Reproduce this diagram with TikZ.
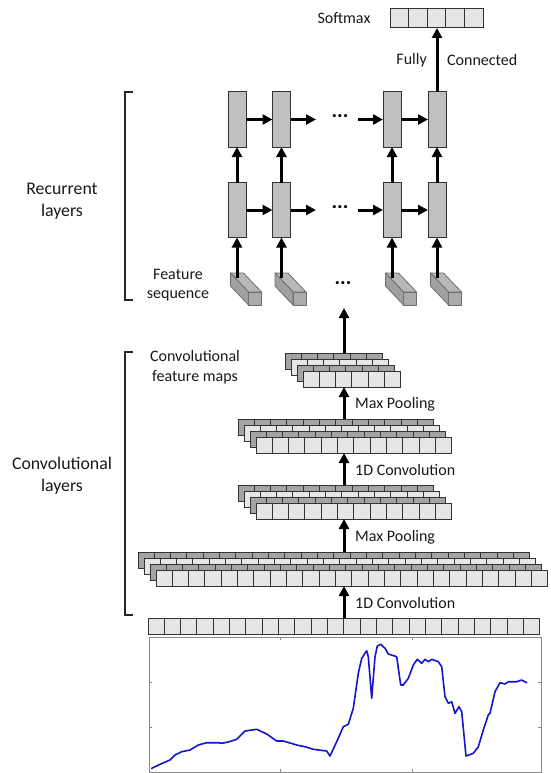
\documentclass[tikz,border=0pt]{standalone}
\usepackage{fontspec}
\setmainfont{Carlito}
\usetikzlibrary{arrows.meta,calc}
\definecolor{cdark}{HTML}{A4A4A4}
\definecolor{clight}{HTML}{E6E6E6}
\definecolor{crnn}{HTML}{C0C0C0}
\definecolor{cedge}{HTML}{333333}
\definecolor{cubetop}{HTML}{B8B8B8}
\definecolor{cubeside}{HTML}{A0A0A0}
\definecolor{cubefront}{HTML}{ABABAB}
\definecolor{cubeedge}{HTML}{6E6E6E}
\definecolor{plotblue}{HTML}{1414CC}
\definecolor{frame}{HTML}{8A8A8A}
\newcommand{\layerrow}[5]{%
  \node[cellbox, fill=#5, minimum width=#4*16.33pt, anchor=north west] (#1) at (#2,#3) {};
  \foreach \i in {2,...,#4} \draw[cellline] ([xshift={(\i-1)*16.33pt}]#1.north west) -- ([xshift={(\i-1)*16.33pt}]#1.south west);
}
\newcommand{\stackblock}[4]{%
  \layerrow{#1a}{#2}{#3}{#4}{cdark}
  \layerrow{#1b}{#2+6}{#3+6}{#4}{clight}
  \layerrow{#1c}{#2+12}{#3+12}{#4}{cdark}
  \layerrow{#1}{#2+18}{#3+18}{#4}{clight}
}
\newcommand{\cuboid}[2]{% name, back-left x
  \filldraw[cubeface, fill=cubetop] (#2,273) -- (#2+13,273) -- (#2+31,292) -- (#2+18,292) -- cycle;
  \filldraw[cubeface, fill=cubeside] (#2,273) -- (#2+18,292) -- (#2+18,305) -- (#2,286) -- cycle;
  \filldraw[cubeface, fill=cubefront] (#2+18,292) rectangle (#2+31,305);
  \coordinate (#1) at (#2+6.5,278);
}
\begin{document}
\begin{tikzpicture}[x=1pt,y=-1pt,
  lbl/.style={font=\fontsize{16}{19.5}\selectfont, inner sep=0pt, align=center, text=black!90},
  biglbl/.style={font=\fontsize{17.8}{22}\selectfont, inner sep=0pt, align=center, text=black!90},
  cellbox/.style={draw=cedge, line width=1pt, minimum height=16pt, inner sep=0pt, outer sep=0pt},
  cellline/.style={draw=cedge, line width=1pt},
  rnn/.style={draw=cedge, fill=crnn, line width=1pt, minimum width=18pt, minimum height=55pt, inner sep=0pt, outer sep=0pt},
  cubeface/.style={draw=cubeedge, line width=0.8pt, line join=round},
  arr/.style={line width=3pt, -{Triangle[length=10pt,width=10pt]}},
  brack/.style={line width=1.2pt, black!85},
  dots/.style={font=\fontsize{21}{24}\selectfont\bfseries, inner sep=0pt}]
\useasboundingbox (0,0) rectangle (550,773);

% ---------- Softmax ----------
\node[cellbox, fill=clight, minimum width=93pt, minimum height=19pt, anchor=north west] (soft) at (390,9) {};
\foreach \i in {1,...,4} \draw[cellline] ([xshift={\i*18.6pt}]soft.north west) -- ([xshift={\i*18.6pt}]soft.south west);
\node[lbl] (softlbl) at (344,18) {Softmax};

% ---------- Recurrent layers ----------
\node[rnn] (u1) at (237,119.5) {};
\node[rnn] (u2) at (281.5,119.5) {};
\node[rnn] (u3) at (392,119.5) {};
\node[rnn] (u4) at (437,119.5) {};
\node[rnn] (l1) at (237,210) {};
\node[rnn] (l2) at (281.5,210) {};
\node[rnn] (l3) at (392,210) {};
\node[rnn] (l4) at (437,210) {};
\coordinate (ue) at (316,119.5);
\coordinate (us) at (358,119.5);
\coordinate (le) at (316,210);
\coordinate (ls) at (358,210);
\node[dots] (udots) at (340,116) {...};
\node[dots] (ldots) at (340,207) {...};
\node[dots] (fdots) at (343,283) {...};

\draw[arr] (u1) -- (u2);
\draw[arr] (u2) -- (ue);
\draw[arr] (us) -- (u3);
\draw[arr] (u3) -- (u4);
\draw[arr] (l1) -- (l2);
\draw[arr] (l2) -- (le);
\draw[arr] (ls) -- (l3);
\draw[arr] (l3) -- (l4);
\foreach \c in {1,2,3,4} \draw[arr] (l\c) -- (u\c);

% fully connected
\draw[arr] (u4) -- (soft.south -| u4);
\node[lbl, anchor=east] (fully) at (427,60) {Fully};
\node[lbl, anchor=west] (conn) at (447,60) {Connected};

% feature sequence cuboids
\cuboid{c1}{230.5}
\cuboid{c2}{275}
\cuboid{c3}{385.5}
\cuboid{c4}{430.5}
\foreach \c in {1,2,3,4} \draw[arr] (c\c) -- (l\c);
\node[lbl] (fseq) at (178,285) {Feature\\sequence};

% ---------- Convolutional stacks ----------
\coordinate (ax) at (344,0);
\stackblock{A}{285}{353}{6}
\stackblock{B}{238}{419}{12}
\stackblock{C}{238}{485}{12}
\stackblock{D}{138}{552}{24}
\layerrow{inp}{148}{618}{24}{clight}

\coordinate (fsq) at (344,308);
\draw[arr] (inp.north -| ax) -- (D.south -| ax);
\draw[arr] (Da.north -| ax) -- (C.south -| ax);
\draw[arr] (Ca.north -| ax) -- (B.south -| ax);
\draw[arr] (Ba.north -| ax) -- (A.south -| ax);
\draw[arr] (Aa.north -| ax) -- (fsq);

\node[lbl, anchor=west] (t1) at (355,603) {1D Convolution};
\node[lbl, anchor=west] (t2) at (355,537) {Max Pooling};
\node[lbl, anchor=west] (t3) at (355,470) {1D Convolution};
\node[lbl, anchor=west] (t4) at (355,404) {Max Pooling};
\node[lbl] (cfm) at (195,367) {Convolutional\\feature maps};

% ---------- brackets ----------
\draw[brack] (133,92) -- (125,92) -- (125,300) -- (133,300);
\draw[brack] (133,352) -- (125,352) -- (125,615) -- (133,615);
\node[biglbl] (rec) at (62,201) {Recurrent\\layers};
\node[biglbl] (conv) at (62,476) {Convolutional\\layers};

% ---------- signal plot ----------
\draw[frame, line width=0.8pt] (149,637) rectangle (541,772);
\foreach \x in {280,412} {\draw[frame, line width=0.8pt] (\x,637) -- (\x,640); \draw[frame, line width=0.8pt] (\x,772) -- (\x,769);}
\foreach \y in {682,727} {\draw[frame, line width=0.8pt] (149,\y) -- (152,\y); \draw[frame, line width=0.8pt] (541,\y) -- (538,\y);}
\draw[plotblue, line width=1.6pt, line join=round, line cap=round]
 (151.7,768.3) -- (160,764.3) -- (170,760) -- (175,755) -- (181.7,751.7) -- (190,750)
 -- (198.3,745) -- (206.7,742.7) -- (218.3,742.7) -- (221.7,743.3) -- (228.3,742) -- (236.7,739.3)
 -- (245,731) -- (256.7,729.3) -- (266.7,734) -- (276.7,741) -- (283.3,741) -- (296.7,745)
 -- (305,746.7) -- (313.3,749.3) -- (326.7,751) -- (330,756) -- (336.7,741.7) -- (343.3,726.7)
 -- (348.3,724.3) -- (353.3,708.3) -- (358.3,673.3) -- (361.7,658.3) -- (366.7,650.7) -- (368.3,656.7)
 -- (371.7,698.3) -- (375,656.7) -- (377.3,646) -- (380.7,644.3) -- (385,648.3) -- (388.3,654)
 -- (396.7,656.7) -- (400.7,685) -- (403.3,685) -- (408.3,678.3) -- (413.3,665) -- (417.3,659.3)
 -- (421.7,663.3) -- (425,659.3) -- (428.3,661.7) -- (431.7,659.3) -- (438.3,661.7) -- (441.7,666.7)
 -- (445,696.7) -- (448.3,703.3) -- (451.7,701.7) -- (455,713.3) -- (459,706.7) -- (461.7,711.7)
 -- (466,756) -- (473.3,753.3) -- (478.3,746.7) -- (483.3,730) -- (488.3,715) -- (490,713.3)
 -- (495,691.7) -- (500,682.7) -- (505,684) -- (508.3,681.7) -- (516.7,681.7) -- (521.7,680)
 -- (526.7,682.7);
\end{tikzpicture}
\end{document}
